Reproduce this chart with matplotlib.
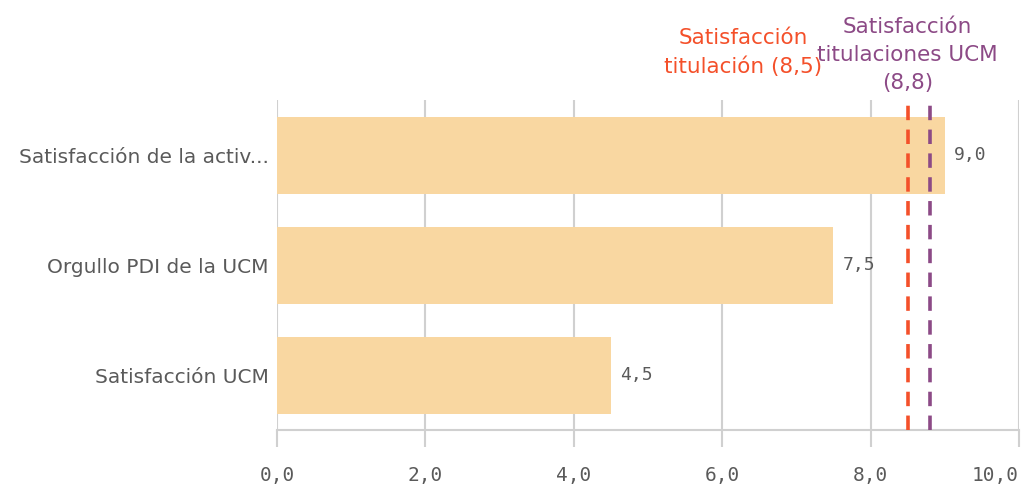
import matplotlib.pyplot as plt

# Chart data
categories = ['Satisfacción de la activ...', 'Orgullo PDI de la UCM', 'Satisfacción UCM']
values = [9.0, 7.5, 4.5]
ref_values = [8.5, 8.8]
ref_labels = ['Satisfacción\ntitulación (8,5)', 'Satisfacción\ntitulaciones UCM\n(8,8)']
ref_colors = ['#F4502A', '#8C4A86']
xticks = [0, 2, 4, 6, 8, 10]

BAR_COLOR = '#F9D7A1'
GRID_COLOR = '#D0D0D0'
TEXT_COLOR = '#5A5A5A'


def fmt(v):
    return f'{v:.1f}'.replace('.', ',')


fig = plt.figure(figsize=(10.25, 4.91), dpi=100)
ax = fig.add_axes([0.2702, 0.1242, 0.7239, 0.6721])

y = list(range(len(categories)))
ax.barh(y, values, height=0.70, color=BAR_COLOR, zorder=2)
ax.set_ylim(len(categories) - 0.5, -0.5)
ax.set_xlim(0, 10)

# Value labels
for yi, v in zip(y, values):
    ax.text(v + 0.12, yi, fmt(v), va='center', ha='left', fontsize=13,
            color=TEXT_COLOR, family='DejaVu Sans Mono')

# Reference lines
for v, c in zip(ref_values, ref_colors):
    ax.axvline(v, color=c, linestyle=(0, (4, 2.6)), linewidth=2.6, zorder=3)

ax.text(6.28, -0.71, ref_labels[0], ha='center', va='bottom', fontsize=15.5,
        color=ref_colors[0], linespacing=1.5)
ax.text(8.5, -0.56, ref_labels[1], ha='center', va='bottom', fontsize=15.5,
        color=ref_colors[1], linespacing=1.5)

# Axes styling
ax.set_xticks(xticks)
ax.set_xticklabels([fmt(t) for t in xticks], family='DejaVu Sans Mono',
                   fontsize=14, color=TEXT_COLOR)
ax.get_xticklabels()[-1].set_horizontalalignment('right')
ax.set_yticks(y)
ax.set_yticklabels(categories, fontsize=14.5, color=TEXT_COLOR)
ax.tick_params(axis='y', length=0, pad=6)
ax.tick_params(axis='x', length=12, width=1.5, color=GRID_COLOR, pad=14)
ax.grid(axis='x', color=GRID_COLOR, linewidth=1.5, zorder=0)
for side in ['top', 'right', 'left']:
    ax.spines[side].set_visible(False)
ax.spines['bottom'].set_color(GRID_COLOR)
ax.spines['bottom'].set_linewidth(1.5)

fig.savefig('out.png', dpi=100)
